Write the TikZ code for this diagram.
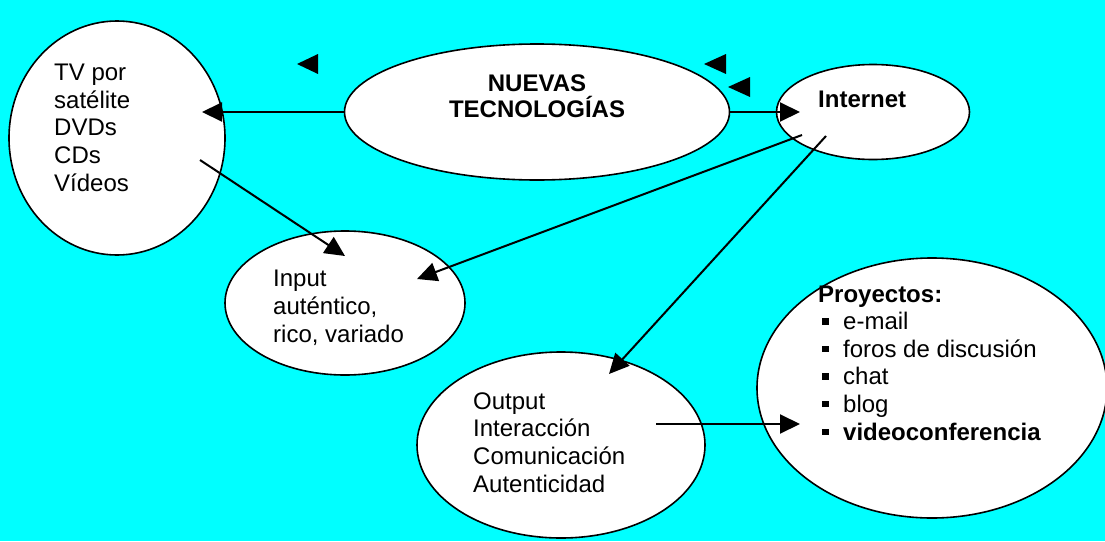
\documentclass[tikz,border=0pt]{standalone}
\usepackage{fontspec}
\setmainfont{Liberation Sans}
\usetikzlibrary{shapes.geometric,arrows.meta}
\definecolor{bgcyan}{RGB}{0,255,255}
\newcommand{\pbul}{\makebox[25pt][l]{\hspace{4pt}\raisebox{5pt}{\rule{6.5pt}{6.5pt}}}}

\begin{document}
\begin{tikzpicture}[x=1pt,y=-1pt,
  bubble/.style={draw=black, line width=1.6pt, fill=white, ellipse, inner sep=0pt},
  conn/.style={line width=2pt, -{Triangle[length=20pt,width=19pt]}},
  txt/.style={inner sep=0pt, anchor=base west, align=left, font=\fontsize{24}{27.6}\selectfont}]
\fill[bgcyan] (0,0) rectangle (1105,541);
\useasboundingbox (0,0) rectangle (1105,541);
% ellipses
\node[bubble, minimum width=216pt, minimum height=234pt] (tv) at (117,138) {};
\node[bubble, minimum width=385pt, minimum height=136pt] (nt) at (537,112) {};
\node[bubble, minimum width=193pt, minimum height=95pt] (inet) at (873,112) {};
\node[bubble, minimum width=240pt, minimum height=144pt] (inp) at (345,303) {};
\node[bubble, minimum width=288pt, minimum height=186pt] (outp) at (561,445) {};
\node[bubble, minimum width=350pt, minimum height=260pt] (proy) at (932,388) {};
% texts (anchored at the baseline of the last line)
\node[txt] (tvtxt) at (54,191) {TV por\\sat\'elite\\DVDs\\CDs\\V\'ideos};
\node[txt, anchor=base, align=center, font=\fontsize{24}{25.6}\selectfont\bfseries] (nttxt) at (537,117) {NUEVAS\\TECNOLOG\'IAS};
\node[txt, font=\fontsize{24}{27.6}\selectfont\bfseries] (inettxt) at (818,107) {Internet};
\node[txt] (inptxt) at (273,342) {Input\\aut\'entico,\\rico, variado};
\node[txt] (outptxt) at (473,492) {Output\\Interacci\'on\\Comunicaci\'on\\Autenticidad};
\node[txt] (proytxt) at (818,440) {\textbf{Proyectos:}\\\pbul e-mail\\\pbul foros de discusi\'on\\\pbul chat\\\pbul blog\\\pbul\textbf{videoconferencia}};
% free ends
\coordinate (tvin) at (202,112);
\coordinate (tvout) at (200,160);
\coordinate (inpinA) at (345,256);
\coordinate (inpinB) at (417,279);
\coordinate (inetin) at (800,112);
\coordinate (inetoutA) at (802,135);
\coordinate (inetoutB) at (826,136);
\coordinate (outpin) at (609,374);
\coordinate (outpout) at (656,424);
\coordinate (proyin) at (800,424);
% arrows
\draw[conn] (nt.west) -- (tvin);
\draw[conn] (nt.east) -- (inetin);
\draw[conn] (tvout) -- (inpinA);
\draw[conn] (inetoutA) -- (inpinB);
\draw[conn] (inetoutB) -- (outpin);
\draw[conn] (outpout) -- (proyin);
% loose heads
\fill (297,64) -- (318,54) -- (318,74) -- cycle;
\fill (704,64) -- (726,54) -- (726,74) -- cycle;
\fill (728,87) -- (750,77) -- (750,97) -- cycle;
\end{tikzpicture}
\end{document}
